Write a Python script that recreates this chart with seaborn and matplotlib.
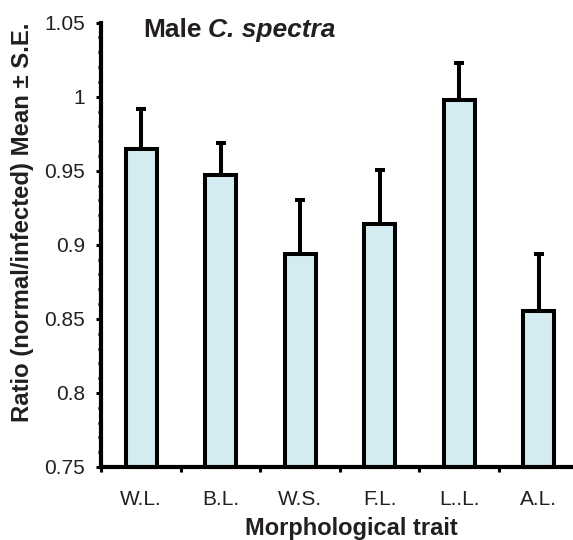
import matplotlib
matplotlib.use("Agg")
import matplotlib.pyplot as plt
import seaborn as sns
import numpy as np
import pandas as pd
from matplotlib.ticker import MultipleLocator

# ---- data ----
traits = ["W.L.", "B.L.", "W.S.", "F.L.", "L..L.", "A.L."]
means = [0.965, 0.947, 0.894, 0.914, 0.998, 0.855]
se = [0.0265, 0.0215, 0.0365, 0.0365, 0.025, 0.039]
y_ticks = [0.75, 0.80, 0.85, 0.90, 0.95, 1.00, 1.05]
y_tick_labels = ["0.75", "0.8", "0.85", "0.9", "0.95", "1", "1.05"]
title_plain = "Male"
title_italic = "C. spectra"
x_label = "Morphological trait"
y_label = "Ratio (normal/infected) Mean \u00b1 S.E."

sns.set_theme(style="ticks")
plt.rcParams["font.family"] = ["Liberation Sans", "DejaVu Sans"]

fig = plt.figure(figsize=(5.73, 5.40), dpi=100)
ax = fig.add_axes([0.1768, 0.1352, 0.8328, 0.8228])

df = pd.DataFrame({"trait": traits, "mean": means})
sns.barplot(data=df, x="trait", y="mean", color="#D4EBF2", saturation=1,
            width=0.39, edgecolor="black", linewidth=2.9, errorbar=None,
            ax=ax, zorder=2)
ax.errorbar(np.arange(len(traits)), means,
            yerr=[np.zeros(len(se)), se], fmt="none", ecolor="black",
            elinewidth=2.9, capsize=3.6, capthick=2.9, zorder=1)

ax.set_xlim(-0.5, len(traits) - 0.5)
ax.set_ylim(0.75, 1.05)

for s in ["top", "right"]:
    ax.spines[s].set_visible(False)
for s in ["left", "bottom"]:
    ax.spines[s].set_linewidth(3)
    ax.spines[s].set_color("black")

ax.set_yticks(y_ticks, labels=y_tick_labels)
ax.yaxis.set_minor_locator(MultipleLocator(0.01))
ax.tick_params(axis="y", which="major", direction="out", length=3.6,
               width=2.2, pad=8.2, labelsize=15, color="black",
               labelcolor="#231f20")
ax.tick_params(axis="y", which="minor", direction="out", length=2,
               width=2.2, color="black")

ax.set_xticks(range(len(traits)), labels=traits)
ax.set_xticks(np.arange(-0.5, len(traits) - 0.5, 1), minor=True)
ax.tick_params(axis="x", which="major", length=0, pad=16.5, labelsize=15,
               labelcolor="#231f20")
ax.tick_params(axis="x", which="minor", direction="out", length=3.6,
               width=2.2, color="black")

ax.set_ylabel(y_label, fontsize=17.2, fontweight="bold", color="#231f20")
ax.yaxis.set_label_coords(-0.141, 0.55)
ax.set_xlabel(x_label, fontsize=17, fontweight="bold", color="#231f20",
              va="top")
ax.xaxis.set_label_coords(0.525, -0.112)

t1 = fig.text(143 / 573, 1 - 36.7 / 540, title_plain, fontsize=19,
              fontweight="bold", va="baseline", color="#231f20")
ax.annotate(title_italic, xy=(1, 0), xycoords=t1, xytext=(5, 0),
            textcoords="offset points", fontsize=19, fontweight="bold",
            fontstyle="italic", va="bottom", ha="left", color="#231f20",
            annotation_clip=False)

fig.savefig("out.png", dpi=100)
